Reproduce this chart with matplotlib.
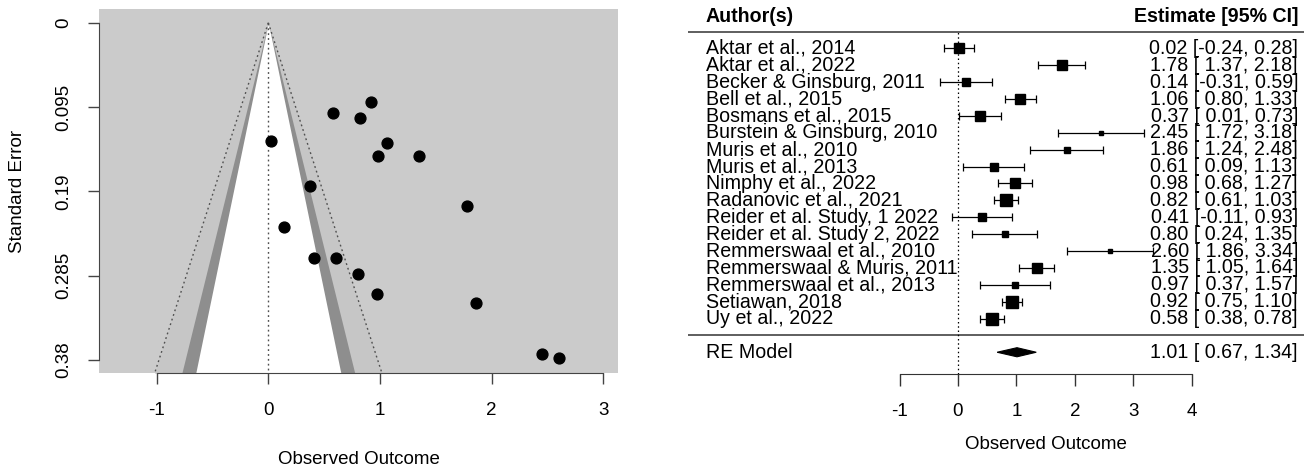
import numpy as np
import matplotlib
matplotlib.use('Agg')
import matplotlib.pyplot as plt
from matplotlib.patches import Polygon
from matplotlib.transforms import blended_transform_factory

plt.rcParams['font.family'] = ['Liberation Sans', 'DejaVu Sans']

# ---------------- data ----------------
authors = [
    "Aktar et al., 2014", "Aktar et al., 2022", "Becker & Ginsburg, 2011",
    "Bell et al., 2015", "Bosmans et al., 2015", "Burstein & Ginsburg, 2010",
    "Muris et al., 2010", "Muris et al., 2013", "Nimphy et al., 2022",
    "Radanovic et al., 2021", "Reider et al. Study, 1 2022", "Reider et al. Study 2, 2022",
    "Remmerswaal et al., 2010", "Remmerswaal & Muris, 2011", "Remmerswaal et al., 2013",
    "Setiawan, 2018", "Uy et al., 2022",
]
estimates = [0.02, 1.78, 0.14, 1.06, 0.37, 2.45, 1.86, 0.61, 0.98, 0.82, 0.41, 0.80, 2.60, 1.35, 0.97, 0.92, 0.58]
ci_lower = [-0.24, 1.37, -0.31, 0.80, 0.01, 1.72, 1.24, 0.09, 0.68, 0.61, -0.11, 0.24, 1.86, 1.05, 0.37, 0.75, 0.38]
ci_upper = [0.28, 2.18, 0.59, 1.33, 0.73, 3.18, 2.48, 1.13, 1.27, 1.03, 0.93, 1.35, 3.34, 1.64, 1.57, 1.10, 0.78]
std_errors = [0.133, 0.207, 0.230, 0.135, 0.184, 0.374, 0.316, 0.265, 0.150, 0.107, 0.265, 0.283, 0.378, 0.150, 0.306, 0.089, 0.102]

re_label = "RE Model"
re_estimate = 1.01
re_lower = 0.67
re_upper = 1.34

funnel_yticks = [0, 0.095, 0.19, 0.285, 0.38]
funnel_ytick_labels = ["0", "0.095", "0.19", "0.285", "0.38"]
funnel_xticks = [-1, 0, 1, 2, 3]
forest_xticks = [-1, 0, 1, 2, 3, 4]

# ---------------- figure ----------------
W, H = 1304, 469
fig = plt.figure(figsize=(W / 100, H / 100), dpi=100)

def px_axes(l, t, r, b):
    return fig.add_axes([l / W, 1 - b / H, (r - l) / W, (b - t) / H])

FS = 13.5
FS_F = 14.1
TICK_COLOR = '#444444'

# ---------------- funnel plot ----------------
ax = px_axes(99, 9.3, 618.3, 373.3)
ax.set_xlim(-1.516, 3.134)
ax.set_ylim(0.3952, -0.0152)
ax.set_facecolor('#cbcbcb')

se_grid = np.array([0.0, 0.3952])
z99, z95, z90 = 2.576, 1.96, 1.645
ax.fill_betweenx(se_grid, -z99 * se_grid, z99 * se_grid, color='#c6c6c6', lw=0, zorder=1)
ax.fill_betweenx(se_grid, -z95 * se_grid, z95 * se_grid, color='#8e8e8e', lw=0, zorder=1)
ax.fill_betweenx(se_grid, -z90 * se_grid, z90 * se_grid, color='white', lw=0, zorder=1)
dot = (0, (1.3, 2.2))
ax.plot(-z99 * se_grid, se_grid, ls=dot, color='#505050', lw=1.0, zorder=2)
ax.plot(z99 * se_grid, se_grid, ls=dot, color='#505050', lw=1.0, zorder=2)
ax.plot([0, 0], se_grid, ls=dot, color='#505050', lw=1.0, zorder=2)

ax.plot(estimates, std_errors, 'o', color='black', markersize=7.8, zorder=3)

for s in ['top', 'right']:
    ax.spines[s].set_visible(False)
ax.spines['left'].set_bounds(0, 0.38)
ax.spines['bottom'].set_bounds(-1, 3)
ax.spines['left'].set_color(TICK_COLOR)
ax.spines['bottom'].set_color(TICK_COLOR)
ax.set_xticks(funnel_xticks)
ax.set_xticklabels([str(v) for v in funnel_xticks])
ax.set_yticks(funnel_yticks)
ax.set_yticklabels(funnel_ytick_labels, rotation=90, va='center')
ax.tick_params(axis='both', length=8, width=1, color=TICK_COLOR, labelsize=FS)
ax.tick_params(axis='x', pad=12.5)
ax.tick_params(axis='y', pad=11)
ax.set_xlabel("Observed Outcome", fontsize=FS, labelpad=23.5)
ax.set_ylabel("Standard Error", fontsize=FS, labelpad=21)

# ---------------- forest plot ----------------
fx = px_axes(688, 0, 1304, 469)
k = len(authors)
row_px = 16.875
top_row_px = 48.5
y_top = k - (0 - top_row_px) / row_px
y_bot = k - (H - top_row_px) / row_px
fx.set_ylim(y_bot, y_top)
x0_px, unit_px = 958.0, 58.4
fx.set_xlim((688 - x0_px) / unit_px, (1304 - x0_px) / unit_px)
fx.set_facecolor('none')
for s in ['top', 'right', 'left']:
    fx.spines[s].set_visible(False)

rows = np.arange(k, 0, -1)
est = np.array(estimates)
lo = np.array(ci_lower)
hi = np.array(ci_upper)
se = np.array(std_errors)

axis_row = -2.28
fx.spines['bottom'].set_position(('data', axis_row))
fx.spines['bottom'].set_bounds(forest_xticks[0], forest_xticks[-1])
fx.spines['bottom'].set_color('#333333')
fx.set_xticks(forest_xticks)
fx.set_xticklabels([str(v) for v in forest_xticks])
fx.set_yticks([])
fx.tick_params(axis='x', length=8.5, width=1, color='#333333', labelsize=FS, pad=12.5)

fx.axhline(k + 1, color='#333333', lw=1.1)
fx.axhline(0, color='#333333', lw=1.1)
fx.vlines(0, axis_row, k + 1, colors='black', linestyles=(0, (1.2, 2.2)), lw=0.9)

fx.errorbar(est, rows, xerr=[est - lo, hi - est], fmt='none', ecolor='black',
            elinewidth=0.9, capsize=3, capthick=0.9, zorder=2)
tau2 = 0.43
w = 1.0 / (se ** 2 + tau2)
psize = 0.5 + (w - w.min()) / (w.max() - w.min())
for xi, yi, ps in zip(est, rows, psize):
    fx.plot(xi, yi, 's', color='black', markersize=7.7 * ps * 0.72, zorder=3)

h = 0.27
diamond = Polygon([(re_lower, -1), (re_estimate, -1 + h), (re_upper, -1), (re_estimate, -1 - h)],
                  closed=True, facecolor='black', edgecolor='black', lw=0.8)
fx.add_patch(diamond)

trans = blended_transform_factory(fx.transAxes, fx.transData)
left_x = (706 - 688) / 616
right_x = (1298 - 688) / 616

fx.text(left_x, k + 1.9, "Author(s)", transform=trans, ha='left', va='center',
        fontsize=FS_F, fontweight='bold')
fx.text(right_x, k + 1.9, "Estimate [95% CI]", transform=trans, ha='right', va='center',
        fontsize=FS_F, fontweight='bold')

lo_s = [f"{v:.2f}" for v in lo]
hi_s = [f"{v:.2f}" for v in hi]
lw_ = max(len(s) for s in lo_s)
hw_ = max(len(s) for s in hi_s)
for name, r, e, a, b in zip(authors, rows, est, lo_s, hi_s):
    fx.text(left_x, r, name, transform=trans, ha='left', va='center', fontsize=FS_F)
    fx.text(right_x, r, f"{e:.2f} [{a.rjust(lw_)}, {b.rjust(hw_)}]", transform=trans,
            ha='right', va='center', fontsize=FS_F)

fx.text(left_x, -1, re_label, transform=trans, ha='left', va='center', fontsize=FS_F)
fx.text(right_x, -1, f"{re_estimate:.2f} [{re_lower:5.2f}, {re_upper:.2f}]", transform=trans,
        ha='right', va='center', fontsize=FS_F)

fx.text(1.5, 1 - 444 / H, "Observed Outcome", transform=blended_transform_factory(fx.transData, fx.transAxes),
        ha='center', va='center', fontsize=FS)

fig.savefig('out.png', dpi=100)
